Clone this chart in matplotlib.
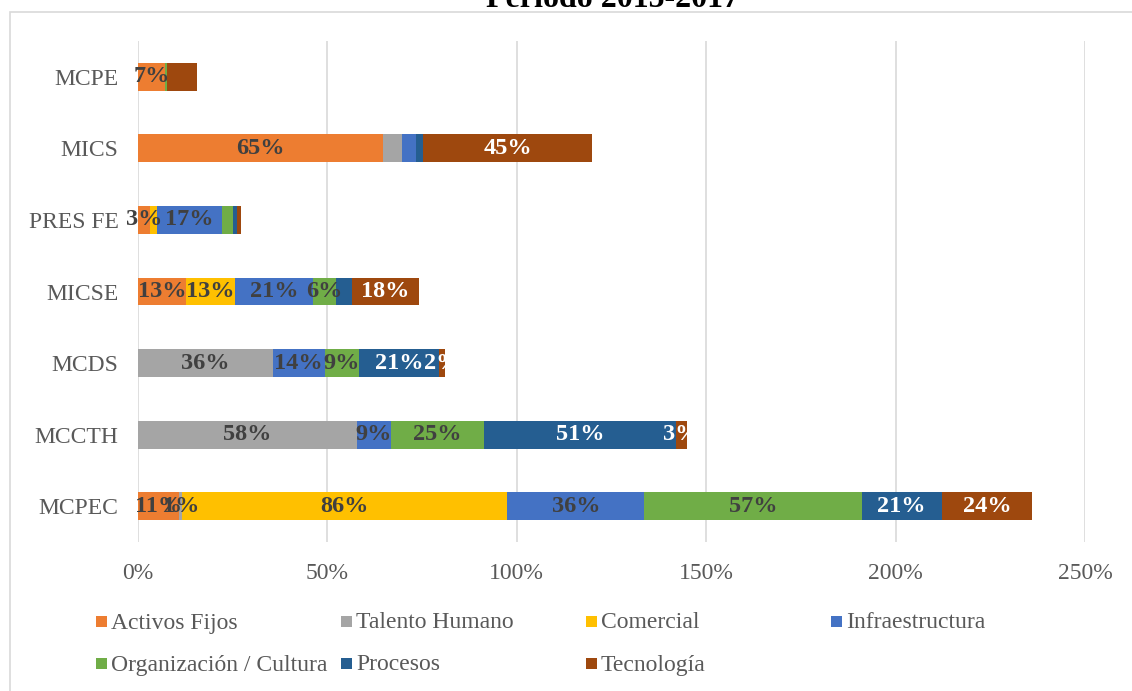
import matplotlib
matplotlib.use("Agg")
import matplotlib.pyplot as plt
from matplotlib.patches import Rectangle
import numpy as np

categories = ["MCPE", "MICS", "PRES FE", "MICSE", "MCDS", "MCCTH", "MCPEC"]
series_names = ["Activos Fijos", "Talento Humano", "Comercial", "Infraestructura",
                "Organización / Cultura", "Procesos", "Tecnología"]
series_colors = ["#ED7D31", "#A5A5A5", "#FFC000", "#4472C4", "#70AD47", "#255E91", "#9E480E"]
label_colors = ["#404040", "#404040", "#404040", "#404040", "#404040", "white", "white"]

# values in percent, categories top to bottom
activos = [7.1, 64.7, 3.2, 12.8, 0, 0, 10.9]
talento = [0, 5.1, 0, 0, 35.6, 57.8, 0.8]
comercial = [0, 0, 1.8, 12.8, 0, 0, 85.8]
infra = [0, 3.5, 17.2, 20.6, 13.7, 8.9, 36.2]
organizacion = [0.5, 0, 2.9, 6.2, 9.0, 24.7, 57.3]
procesos = [0, 2.0, 1.0, 4.1, 21.1, 50.7, 21.2]
tecnologia = [7.9, 44.6, 1.2, 17.6, 1.6, 2.8, 23.8]

# which data labels are displayed
show_activos = [1, 1, 1, 1, 0, 0, 1]
show_talento = [0, 0, 0, 0, 1, 1, 1]
show_comercial = [0, 0, 0, 1, 0, 0, 1]
show_infra = [0, 0, 1, 1, 1, 1, 1]
show_organizacion = [0, 0, 0, 1, 1, 1, 1]
show_procesos = [0, 0, 0, 0, 1, 1, 1]
show_tecnologia = [0, 1, 0, 1, 1, 1, 1]

xticks = [0, 50, 100, 150, 200, 250]
xtick_labels = ["0%", "50%", "100%", "150%", "200%", "250%"]
title = "Periodo 2015-2017"

series = [activos, talento, comercial, infra, organizacion, procesos, tecnologia]
shows = [show_activos, show_talento, show_comercial, show_infra,
         show_organizacion, show_procesos, show_tecnologia]

W, H = 1132, 691
fig = plt.figure(figsize=(W / 100, H / 100), dpi=100)
serif = ["Liberation Serif", "DejaVu Serif"]

ax = fig.add_axes([138 / W, 1 - 542 / H, (1085 - 138) / W, (542 - 41) / H])
y = np.arange(len(categories))
left = np.zeros(len(categories))
for vals, name, col, lc, sh in zip(series, series_names, series_colors, label_colors, shows):
    v = np.array(vals, dtype=float)
    ax.barh(y, v, left=left, height=0.39, color=col, label=name, zorder=3)
    for i in range(len(v)):
        if sh[i] and v[i] > 0:
            ax.text(left[i] + v[i] / 2, y[i], f"{round(v[i])}%", ha="center", va="center",
                    fontsize=17.5, fontweight="bold", color=lc, family=serif, zorder=4)
    left += v

ax.set_xlim(0, 250)
ax.set_ylim(len(categories) - 0.5, -0.5)
ax.set_xticks(xticks)
ax.set_xticklabels(xtick_labels)
ax.set_yticks(y)
ax.set_yticklabels(categories)
for lbl in ax.get_xticklabels() + ax.get_yticklabels():
    lbl.set_family(serif)
    lbl.set_fontsize(17)
    lbl.set_color("#595959")
ax.tick_params(axis="both", length=0)
ax.tick_params(axis="x", pad=15)
ax.tick_params(axis="y", pad=14)
for s in ax.spines.values():
    s.set_visible(False)
ax.grid(axis="x", color="#D9D9D9", linewidth=1.2, zorder=0)
ax.set_axisbelow(True)

# chart border
fig.patches.append(Rectangle((10 / W, -0.1), 1.2, 1 - 12 / H + 0.1, transform=fig.transFigure,
                             fill=False, edgecolor="#D9D9D9", linewidth=1.2))

# title (partially cut at top)
fig.text(613 / W, 1 - 7 / H, title, ha="center", va="baseline", fontsize=23,
         fontweight="bold", family=serif, color="black")

# legend
col_x = [96, 341, 586, 831]
row_y = [622, 664]
for k, (name, col) in enumerate(zip(series_names, series_colors)):
    r, c = divmod(k, 4)
    x0, y0 = col_x[c], row_y[r]
    fig.patches.append(Rectangle((x0 / W, 1 - (y0 + 5) / H), 11 / W, 11 / H,
                                 transform=fig.transFigure, facecolor=col, edgecolor="none"))
    fig.text((x0 + 15) / W, 1 - (y0 + 1) / H, name, ha="left", va="center", fontsize=17,
             family=serif, color="#595959")

fig.savefig("out.png", dpi=100)
